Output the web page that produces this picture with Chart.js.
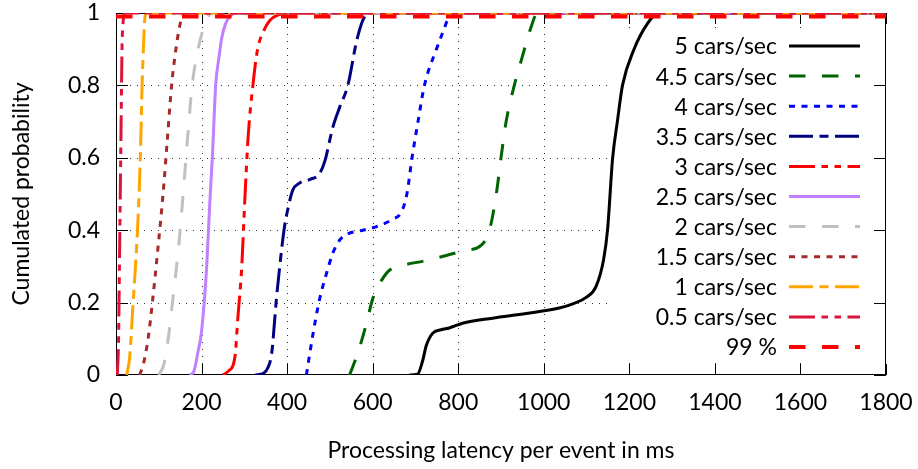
<!DOCTYPE html>
<html>
<head>
<meta charset="utf-8">
<title>Processing latency CDF</title>
<script src="https://cdn.jsdelivr.net/npm/chart.js"></script>
<style>
  body { margin: 0; background: #fff; }
  canvas { display: block; }
</style>
</head>
<body>
<canvas id="grafico" width="918" height="469"></canvas>
<script>
// latency (ms), cumulated probability
const cars5 = [[686,0],[705,0.002],[717,0.04],[725,0.08],[740,0.115],[760,0.125],[779,0.13],[810,0.143],[880,0.157],[959,0.17],[1036,0.185],[1071,0.198],[1100,0.215],[1122,0.244],[1140,0.32],[1149,0.4],[1161,0.6],[1172,0.7],[1184,0.8],[1211,0.9],[1242,0.97],[1268,1],[1800,1]];
const cars45 = [[546,0],[565,0.06],[585,0.14],[600,0.21],[620,0.26],[640,0.29],[670,0.303],[720,0.315],[772,0.33],[819,0.345],[850,0.355],[873,0.4],[889,0.5],[900,0.6],[912,0.7],[931,0.8],[950,0.88],[970,0.96],[985,1],[1800,1]];
const cars4 = [[445,0],[460,0.11],[476,0.21],[492,0.28],[507,0.337],[523,0.373],[542,0.39],[570,0.398],[609,0.41],[646,0.43],[667,0.45],[680,0.5],[692,0.6],[706,0.7],[721,0.8],[749,0.9],[765,0.95],[775,0.98],[790,1],[1800,1]];
const cars35 = [[325,0],[345,0.005],[355,0.02],[364,0.06],[375,0.21],[387,0.345],[394,0.41],[402,0.46],[413,0.51],[429,0.53],[453,0.54],[476,0.557],[488,0.59],[507,0.685],[523,0.74],[542,0.8],[562,0.92],[577,0.98],[590,1],[1800,1]];
const cars3 = [[250,0],[262,0.01],[278,0.05],[285,0.16],[294,0.3],[301,0.48],[309,0.66],[320,0.8],[331,0.9],[345,0.95],[360,0.98],[380,0.995],[400,1],[1800,1]];
const cars25 = [[172,0],[182,0.01],[191,0.06],[200,0.12],[212,0.3],[219,0.47],[226,0.62],[233,0.8],[241,0.88],[247,0.93],[256,0.97],[266,0.99],[280,1],[1800,1]];
const cars2 = [[100,0],[112,0.03],[122,0.1],[132,0.2],[146,0.35],[157,0.5],[167,0.65],[178,0.8],[192,0.9],[208,0.97],[225,1],[1800,1]];
const cars15 = [[55,0],[64,0.03],[75,0.1],[85,0.2],[98,0.35],[110,0.5],[120,0.65],[130,0.8],[140,0.9],[152,0.98],[162,1],[1800,1]];
const cars1 = [[25,0],[32,0.05],[40,0.2],[48,0.35],[54,0.5],[58,0.65],[61,0.8],[64,0.9],[67,0.98],[72,1],[1800,1]];
const cars05 = [[3,0],[6,0.1],[8,0.3],[10,0.5],[12,0.7],[14,0.9],[17,0.98],[20,1],[1800,1]];
const pct99 = [[0,0.99],[1800,0.99]];

const series = [cars5, cars45, cars4, cars35, cars3, cars25, cars2, cars15, cars1, cars05, pct99];
const labels = ['5 cars/sec', '4.5 cars/sec', '4 cars/sec', '3.5 cars/sec', '3 cars/sec', '2.5 cars/sec',
                '2 cars/sec', '1.5 cars/sec', '1 cars/sec', '0.5 cars/sec', '99 %'];
const xTicks = [0, 200, 400, 600, 800, 1000, 1200, 1400, 1600, 1800];
const yTicks = [0, 0.2, 0.4, 0.6, 0.8, 1];

// styles
const colors = ['#000000', '#006400', '#0000ff', '#000080', '#ff0000', '#c080ff', '#c0c0c0', '#a52a2a', '#ffa500', '#dc143c', '#ff0000'];
const longDash = [16.5, 16.5];
const dots = [6, 6.5];
const dashDot = [24, 6.5, 9, 6.5];
const dashDotDot = [26, 6.5, 6.5, 6.5, 6.5, 6.5];
const dashes = [[], longDash, dots, dashDot, dashDotDot, [], longDash, dots, dashDot, dashDotDot, longDash];
const FONT = 'Lato, "Open Sans", sans-serif';
const FSIZE = 23;

const datasets = series.map((pts, i) => ({
  label: labels[i],
  data: pts.map(p => ({ x: p[0], y: p[1] })),
  borderColor: colors[i],
  borderWidth: i === series.length - 1 ? 4 : 3,
  borderDash: dashes[i],
  pointRadius: 0,
  fill: false,
  cubicInterpolationMode: 'monotone',
  order: series.length - i
}));

// dotted grid, opaque key box, frame with inward ticks, and the key itself
const gnuplotLook = {
  id: 'gnuplotLook',
  beforeDatasetsDraw(chart) {
    const { ctx, chartArea: a, scales: { x, y } } = chart;
    ctx.save();
    ctx.lineWidth = 1;
    ctx.strokeStyle = 'rgba(0,0,0,0.8)';
    ctx.setLineDash([1, 6]);
    ctx.beginPath();
    xTicks.slice(1, -1).forEach(v => {
      const px = Math.round(x.getPixelForValue(v)) + 0.5;
      ctx.moveTo(px, a.top); ctx.lineTo(px, a.bottom);
    });
    yTicks.slice(1, -1).forEach(v => {
      const py = Math.round(y.getPixelForValue(v)) + 0.5;
      ctx.moveTo(a.left, py); ctx.lineTo(a.right, py);
    });
    ctx.stroke();

    ctx.setLineDash([]);
    ctx.fillStyle = '#fff';
    ctx.fillRect(a.right - 276, a.top + 17, 275, a.bottom - a.top - 30);

    ctx.strokeStyle = '#000';
    ctx.strokeRect(a.left + 0.5, a.top + 0.5, a.right - a.left - 1, a.bottom - a.top - 1);
    ctx.beginPath();
    xTicks.forEach(v => {
      const px = Math.round(x.getPixelForValue(v)) + 0.5;
      ctx.moveTo(px, a.bottom); ctx.lineTo(px, a.bottom - 11);
      ctx.moveTo(px, a.top); ctx.lineTo(px, a.top + 11);
    });
    yTicks.forEach(v => {
      const py = Math.round(y.getPixelForValue(v)) + 0.5;
      ctx.moveTo(a.left, py); ctx.lineTo(a.left + 12, py);
      ctx.moveTo(a.right, py); ctx.lineTo(a.right - 12, py);
    });
    ctx.stroke();
    ctx.restore();
  },
  afterDatasetsDraw(chart) {
    const { ctx, chartArea: a } = chart;
    ctx.save();
    ctx.font = FSIZE + 'px ' + FONT;
    ctx.textAlign = 'right';
    ctx.textBaseline = 'middle';
    chart.data.datasets.forEach((ds, i) => {
      const yy = a.top + 33 + i * 30.1;
      ctx.fillStyle = '#000';
      ctx.fillText(ds.label, a.right - 109, yy + 1);
      ctx.strokeStyle = ds.borderColor;
      ctx.lineWidth = ds.borderWidth;
      ctx.setLineDash(ds.borderDash);
      ctx.beginPath();
      ctx.moveTo(a.right - 97, yy);
      ctx.lineTo(a.right - 26, yy);
      ctx.stroke();
    });
    ctx.restore();
  }
};

new Chart(document.getElementById('grafico'), {
  type: 'line',
  data: { datasets },
  options: {
    responsive: false,
    animation: false,
    layout: { padding: { top: 13, right: 32, left: 0, bottom: 0 } },
    plugins: { legend: { display: false }, tooltip: { enabled: false } },
    scales: {
      x: {
        type: 'linear', min: 0, max: 1800,
        afterFit: s => { s.height = 94; s.paddingLeft = 0; s.paddingRight = 0; },
        afterBuildTicks: s => { s.ticks = xTicks.map(v => ({ value: v })); },
        grid: { display: false, drawTicks: false },
        border: { display: false },
        ticks: { color: '#000', padding: 14, maxRotation: 0, font: { family: FONT, size: FSIZE }, callback: v => String(v) },
        title: { display: true, text: 'Processing latency per event in ms', color: '#000', padding: { top: 4, bottom: 5 }, font: { family: FONT, size: FSIZE } }
      },
      y: {
        min: 0, max: 1,
        afterFit: s => { s.width = 116; s.paddingTop = 0; s.paddingBottom = 0; },
        afterBuildTicks: s => { s.ticks = yTicks.map(v => ({ value: v })); },
        grid: { display: false, drawTicks: false },
        border: { display: false },
        ticks: { color: '#000', padding: 16, font: { family: FONT, size: FSIZE }, callback: v => String(v) },
        title: { display: true, text: 'Cumulated probability', color: '#000', padding: { top: 8, bottom: 0 }, font: { family: FONT, size: FSIZE } }
      }
    }
  },
  plugins: [gnuplotLook]
});
</script>
</body>
</html>
